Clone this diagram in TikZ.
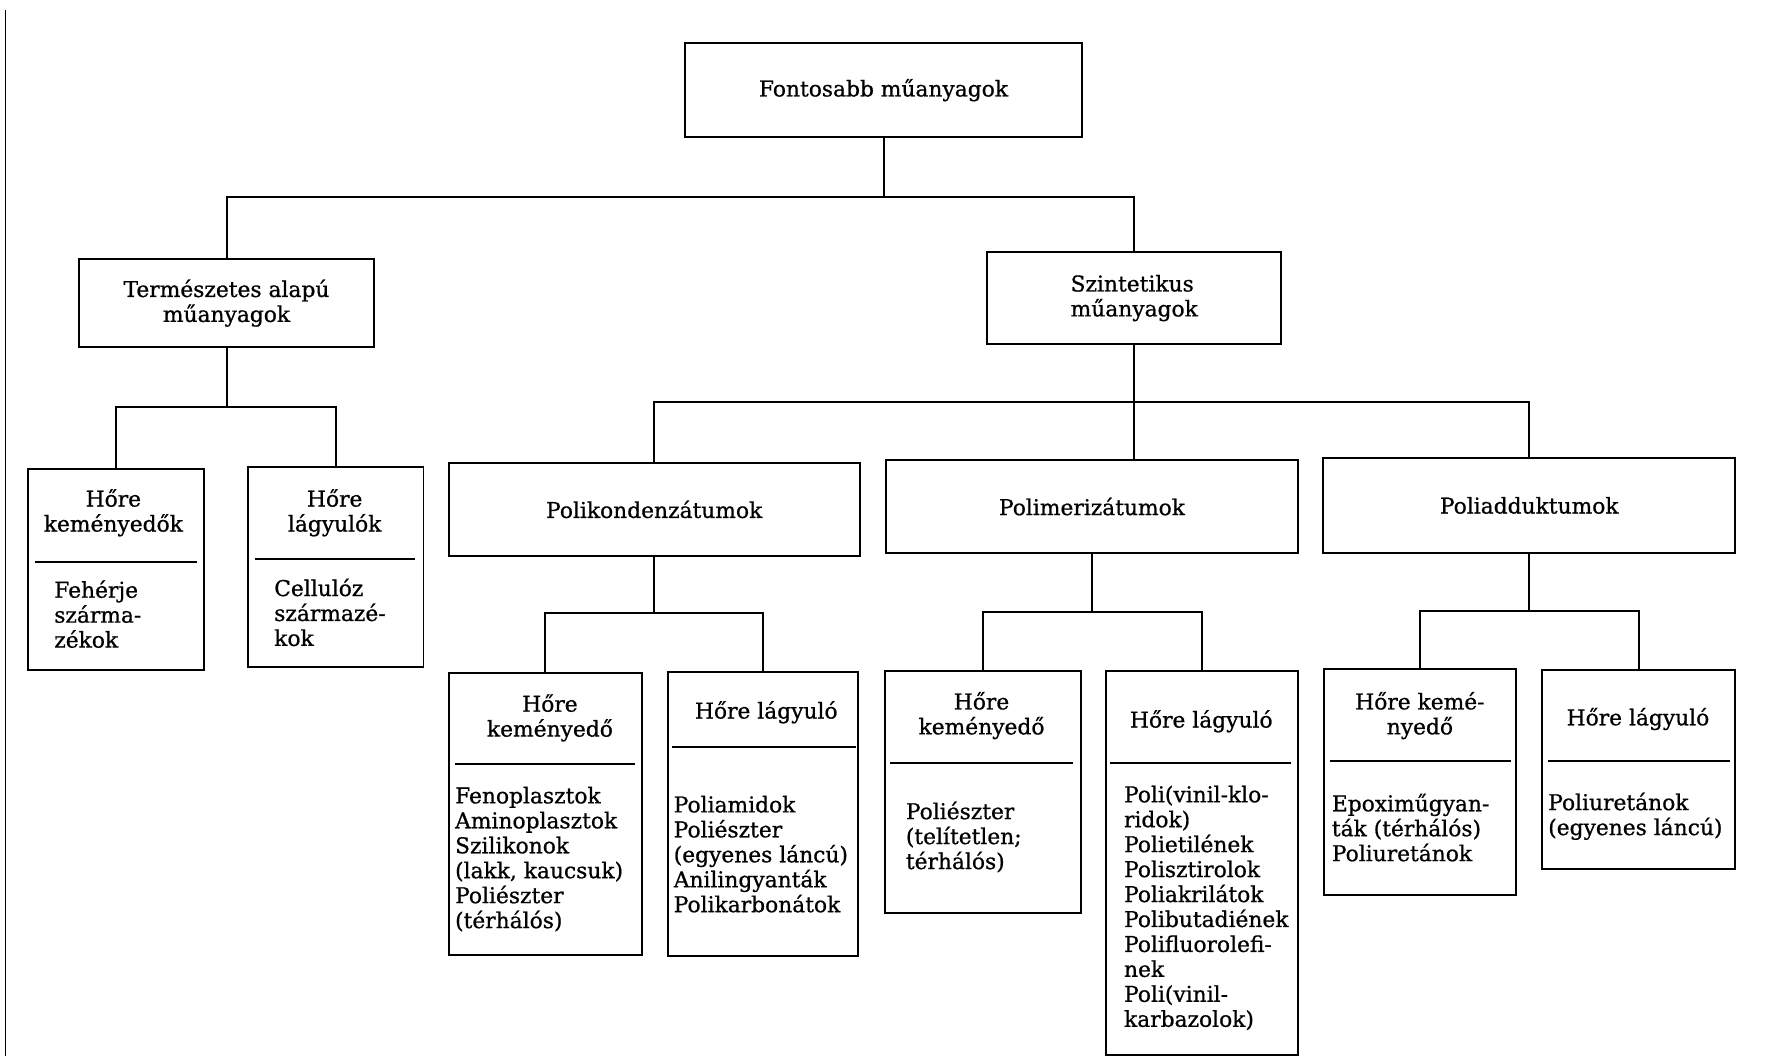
\documentclass[tikz,border=0pt]{standalone}
\usepackage{fontspec}
\setmainfont[FakeBold=0.8]{DejaVu Serif}
\usetikzlibrary{calc}
\newcommand\dfont{\fontsize{11}{12.6}\selectfont}
\begin{document}
\begin{tikzpicture}[x=0.02cm,y=-0.02cm, line width=1pt,
  box/.style={draw, rectangle, inner sep=0pt, outer sep=0pt, font=\dfont, align=center},
  bx/.style 2 args={minimum width=#1*0.02cm, minimum height=#2*0.02cm},
  hdr/.style={inner sep=0pt, font=\dfont, align=center},
  body/.style={anchor=north west, inner sep=0pt, font=\dfont, align=left},
  conn/.style={draw, line width=1pt}]
\fill[white] (0,0) rectangle (1568,937);
\useasboundingbox (0,0) rectangle (1568,937);
\draw[line width=0.7pt] (5,9) -- (5,937);

% level 0/1
\node[box,bx={352}{84}] (top) at (784,80) {Fontosabb műanyagok};
\node[box,bx={262}{78}] (nat) at (201,269) {Természetes alapú\\műanyagok};
\node[box,bx={261}{81},align=left] (syn) at (1006.5,264.5) {Szintetikus\\műanyagok};

% level 2
\node[box,bx={156}{178.5}] (nk) at (103,505) {};
\node[box,bx={155.6}{177.6}] (nl) at (298,503) {};
\node[box,bx={365}{82}] (pk) at (580.5,452) {Polikondenzátumok};
\node[box,bx={366}{83}] (pm) at (969,449.5) {Polimerizátumok};
\node[box,bx={366}{84}] (pa) at (1357,448.5) {Poliadduktumok};

% level 3
\node[box,bx={171}{250}] (pkk) at (484,722) {};
\node[box,bx={168}{252}] (pkl) at (677,722) {};
\node[box,bx={174}{215}] (pmk) at (872,702.5) {};
\node[box,bx={170}{341}] (pml) at (1066.5,765.5) {};
\node[box,bx={170}{200}] (pak) at (1260,694) {};
\node[box,bx={171.5}{176.5}] (pal) at (1454,683) {};

% bus coordinates
\coordinate (b1) at (0,174.5);
\coordinate (b2) at (0,361);
\coordinate (b3) at (0,357);
\coordinate (b4) at (0,544);
\coordinate (b5) at (0,543);
\coordinate (b6) at (0,542.5);

% connectors
\draw[conn] (top.south) -- (top.south |- b1);
\draw[conn] (nat.north) -- (nat.north |- b1) -- (syn.north |- b1) -- (syn.north);
\draw[conn] (nat.south) -- (nat.south |- b2);
\draw[conn] (nk.north) -- (nk.north |- b2) -- (nl.north |- b2) -- (nl.north);
\draw[conn] (syn.south) -- (syn.south |- pm.north);
\draw[conn] (pk.north) -- (pk.north |- b3) -- (pa.north |- b3) -- (pa.north);
\draw[conn] (pk.south) -- (pk.south |- b4);
\draw[conn] (pkk.north) -- (pkk.north |- b4) -- (pkl.north |- b4) -- (pkl.north);
\draw[conn] (pm.south) -- (pm.south |- b5);
\draw[conn] (pmk.north) -- (pmk.north |- b5) -- (pml.north |- b5) -- (pml.north);
\draw[conn] (pa.south) -- (pa.south |- b6);
\draw[conn] (pak.north) -- (pak.north |- b6) -- (pal.north |- b6) -- (pal.north);

% dividers
\draw (31,498.5) -- (174.5,498.5);
\draw (226,496) -- (368,496);
\draw (404,678) -- (563.5,678);
\draw (596,662.5) -- (759.5,662.5);
\draw (790,677) -- (952,677);
\draw (985,677) -- (1146,677);
\draw (1180,675) -- (1341,675);
\draw (1374,675) -- (1535,675);

% headers
\node[hdr] (nkh) at (100.6,455) {Hőre\\keményedők};
\node[hdr] (nlh) at (297,455) {Hőre\\lágyulók};
\node[hdr] (pkkh) at (488,637) {Hőre\\keményedő};
\node[hdr] (pklh) at (680,632) {Hőre lágyuló};
\node[hdr] (pmkh) at (871,635) {Hőre\\keményedő};
\node[hdr] (pmlh) at (1066,640) {Hőre lágyuló};
\node[hdr] (pakh) at (1260,635) {Hőre kemé-\\nyedő};
\node[hdr] (palh) at (1453.5,638) {Hőre lágyuló};

% bodies
\node[body] (nkb) at (47.3,514) {\strut Fehérje\\szárma-\\zékok};
\node[body] (nlb) at (242.5,512.5) {\strut Cellulóz\\származé-\\kok};
\node[body] (pkkb) at (403,696.5) {\strut Fenoplasztok\\Aminoplasztok\\Szilikonok\\(lakk, kaucsuk)\\Poliészter\\(térhálós)};
\node[body] (pklb) at (597,704.5) {\strut Poliamidok\\Poliészter\\(egyenes láncú)\\Anilingyanták\\Polikarbonátok};
\node[body] (pmkb) at (803,710.5) {\strut Poliészter\\(telítetlen;\\térhálós)};
\node[body] (pmlb) at (996.6,695.5) {\strut Poli(vinil-klo-\\ridok)\\Polietilének\\Polisztirolok\\Poliakrilátok\\Polibutadiének\\Polifluorolefi-\\nek\\Poli(vinil-\\karbazolok)};
\node[body] (pakb) at (1181,703.5) {\strut Epoximűgyan-\\ták (térhálós)\\Poliuretánok};
\node[body] (palb) at (1373,702.5) {\strut Poliuretánok\\(egyenes láncú)};
\end{tikzpicture}
\end{document}
